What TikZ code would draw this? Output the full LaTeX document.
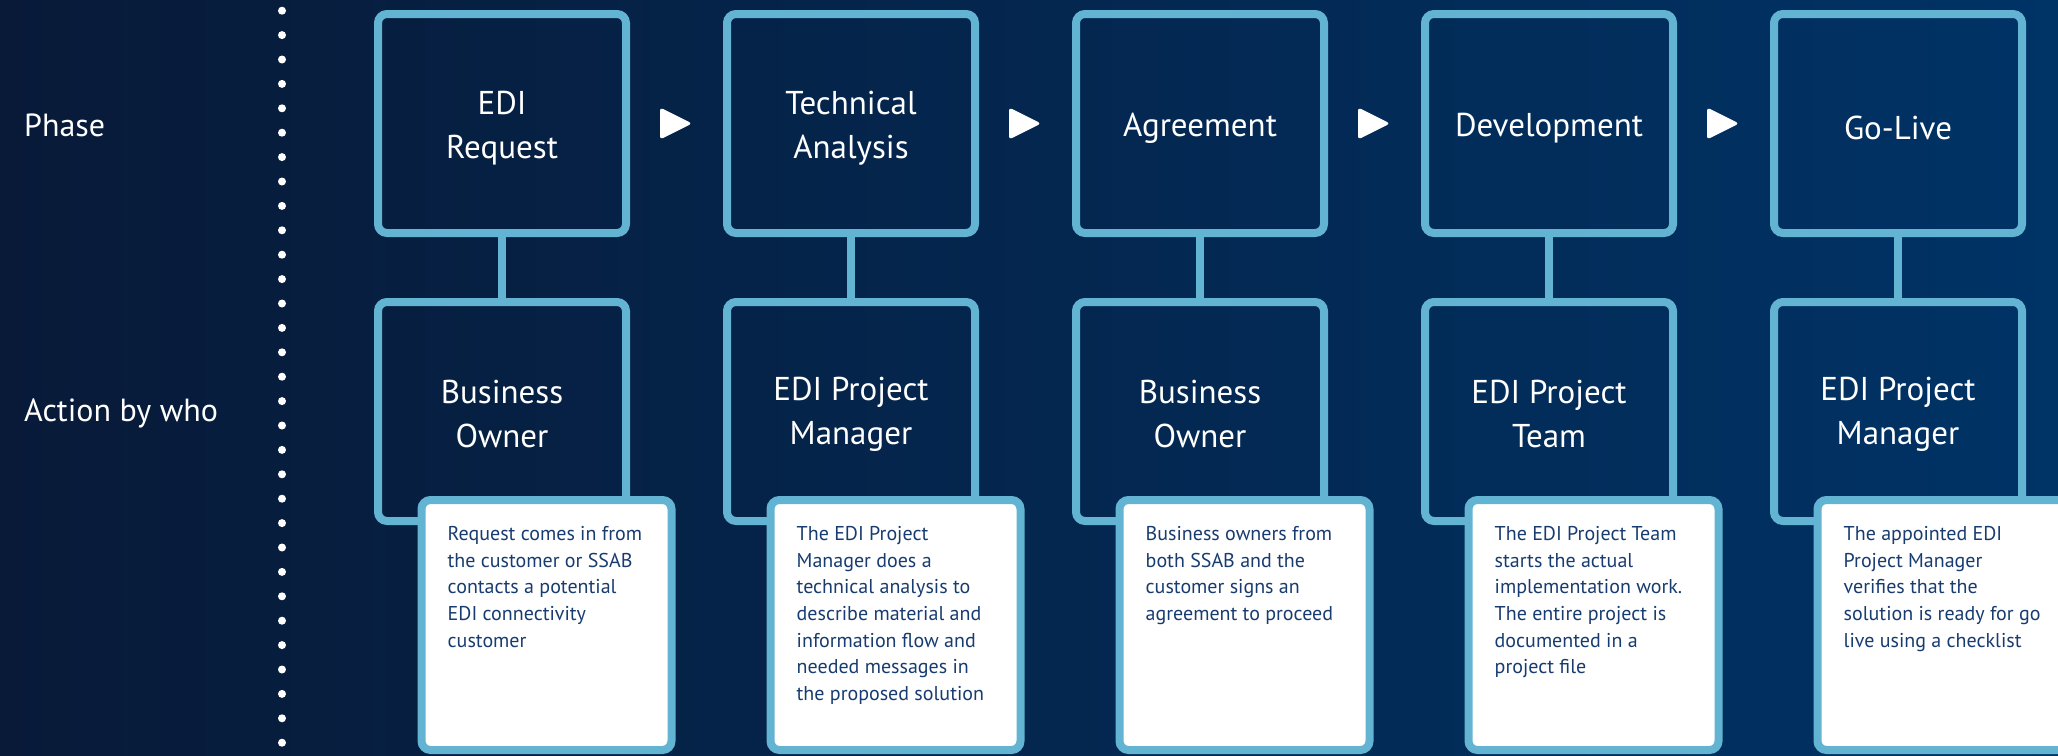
\documentclass[tikz,border=0pt]{standalone}
\usepackage{fontspec}
\setmainfont{PT Sans}
\usetikzlibrary{shapes.geometric, positioning}
\definecolor{navyleft}{RGB}{8, 26, 56}
\definecolor{navyright}{RGB}{0, 51, 102}
\definecolor{frameblue}{RGB}{99, 179, 211}
\definecolor{noteblue}{RGB}{24, 60, 112}
\tikzset{
  phasebox/.style={rectangle, rounded corners=9pt, minimum width=248pt,
    minimum height=219pt, draw=frameblue, line width=8pt, text=white,
    align=center, font=\fontsize{33}{44}\selectfont},
  phaseone/.style={phasebox, text height=33pt},
  phasetwo/.style={phasebox, text height=77pt},
  whobox/.style={phasebox, text height=72pt},
  notebox/.style={rectangle, rounded corners=9pt, minimum width=250pt,
    minimum height=250pt, draw=frameblue, line width=8pt, fill=white},
  notetext/.style={inner sep=0pt, align=left, text=noteblue,
    font=\fontsize{20}{26.7}\selectfont},
  rowlabel/.style={inner sep=0pt, anchor=west, text=white,
    font=\fontsize{32}{38}\selectfont},
  nextmark/.style={isosceles triangle, isosceles triangle stretches,
    minimum width=32pt, minimum height=32pt, inner sep=0pt, outer sep=0pt,
    fill=white, rounded corners=3pt},
  link/.style={draw=frameblue, line width=8pt},
  divider/.style={white, line width=8pt, line cap=round,
    dash pattern=on 0pt off 24.4pt}
}

\begin{document}
\begin{tikzpicture}[x=1pt, y=-1pt]
\useasboundingbox (0,0) rectangle (2058,755);
\clip (0,0) rectangle (2058,755);
\shade[left color=navyleft, right color=navyright] (0,0) rectangle (2058,755);
\draw[divider] (282,10.7) -- (282,755);

\node (phaselbl)  [rowlabel] at (24,125) {Phase};
\node (actionlbl) [rowlabel] at (24,413) {Action by who};

% phases
\node (request) [phasetwo] at (502,123.5)   {EDI\\Request};
\node (analysis)[phasetwo, right=93pt of request]  {Technical\\Analysis};
\node (agree)   [phaseone, right=93pt of analysis] {Agreement};
\node (develop) [phaseone, right=93pt of agree]    {Development};
\node (golive)  [phaseone, right=93pt of develop]  {Go-Live};

\node (next1) [nextmark, right=30pt of request]  {};
\node (next2) [nextmark, right=30pt of analysis] {};
\node (next3) [nextmark, right=30pt of agree]    {};
\node (next4) [nextmark, right=30pt of develop]  {};

% who acts
\node (owner1)  [whobox, below=61pt of request]  {Business\\Owner};
\node (manager1)[whobox, below=61pt of analysis] {EDI Project\\Manager};
\node (owner2)  [whobox, below=61pt of agree]    {Business\\Owner};
\node (team)    [whobox, below=61pt of develop]  {EDI Project\\Team};
\node (manager2)[whobox, below=61pt of golive]   {EDI Project\\Manager};

\draw[link] (request)  -- (owner1);
\draw[link] (analysis) -- (manager1);
\draw[link] (agree)    -- (owner2);
\draw[link] (develop)  -- (team);
\draw[link] (golive)   -- (manager2);

% descriptions
\node (note1) [notebox, below=-29pt of owner1,   xshift=44.5pt] {};
\node (note2) [notebox, below=-29pt of manager1, xshift=44.5pt] {};
\node (note3) [notebox, below=-29pt of owner2,   xshift=44.5pt] {};
\node (note4) [notebox, below=-29pt of team,     xshift=44.5pt] {};
\node (note5) [notebox, below=-29pt of manager2, xshift=44.5pt] {};

\node (desc1) [notetext, below right=30pt and 30pt of note1.north west]
  {Request comes in from\\the customer or SSAB\\contacts a potential\\EDI connectivity\\customer};
\node (desc2) [notetext, below right=30pt and 30pt of note2.north west]
  {The EDI Project\\Manager does a\\technical analysis to\\describe material and\\information flow and\\needed messages in\\the proposed solution};
\node (desc3) [notetext, below right=30pt and 30pt of note3.north west]
  {Business owners from\\both SSAB and the\\customer signs an\\agreement to proceed};
\node (desc4) [notetext, below right=30pt and 30pt of note4.north west]
  {The EDI Project Team\\starts the actual\\implementation work.\\The entire project is\\documented in a\\project file};
\node (desc5) [notetext, below right=30pt and 30pt of note5.north west]
  {The appointed EDI\\Project Manager\\verifies that the\\solution is ready for go\\live using a checklist};
\end{tikzpicture}
\end{document}
